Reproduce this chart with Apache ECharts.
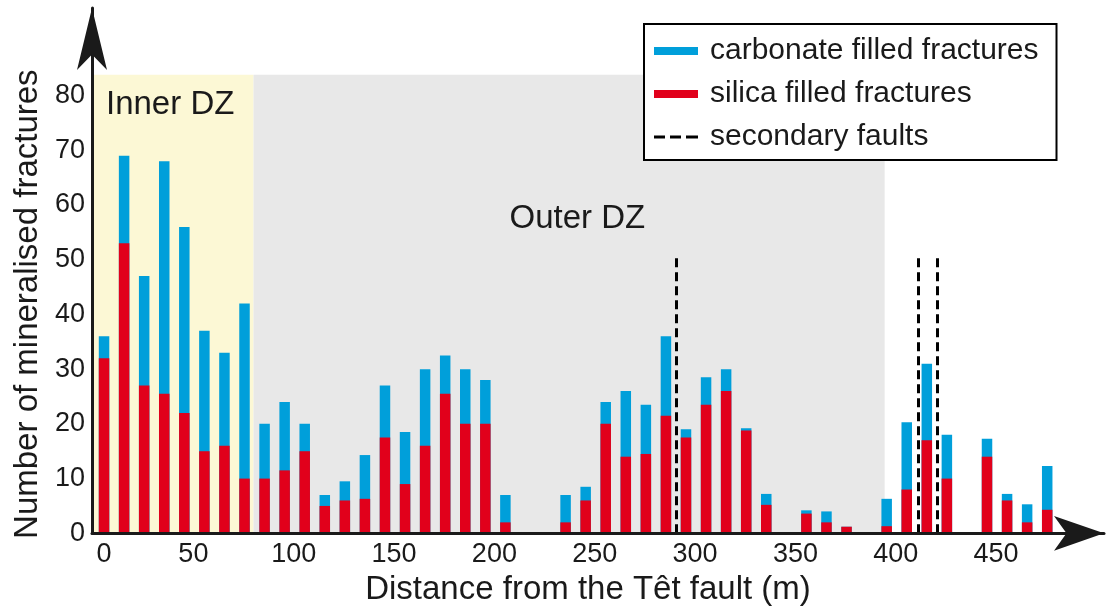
<!DOCTYPE html>
<html>
<head>
<meta charset="utf-8">
<script src="https://cdn.jsdelivr.net/npm/echarts@6/dist/echarts.min.js"></script>
<style>
  html, body { margin: 0; padding: 0; background: #fff; }
  #chart { width: 1107px; height: 614px; }
</style>
</head>
<body>
<div id="chart"></div>
<script>
// ---- data ----
const distances = [0, 10, 20, 30, 40, 50, 60, 70, 80, 90,
                   100, 110, 120, 130, 140, 150, 160, 170, 180, 190,
                   200, 210, 220, 230, 240, 250, 260, 270, 280, 290,
                   300, 310, 320, 330, 340, 350, 360, 370, 380, 390,
                   400, 410, 420, 430, 440, 450, 460, 470];
// total height of each bar (carbonate + silica) and height of the silica part
const totalFractures = [36, 69, 47, 68, 56, 37, 33, 42, 20, 24,
                        20, 7, 9.5, 14.3, 27, 18.5, 30, 32.5, 30, 28,
                        7, 0, 0, 7, 8.5, 24, 26, 23.5, 36, 19,
                        28.5, 30, 19.2, 7.2, 0, 4.2, 4, 1.2, 0, 6.3,
                        20.3, 31, 18, 0, 17.3, 7.2, 5.3, 12.3];
const silica = [32, 53, 27, 25.5, 22, 15, 16, 10, 10, 11.5,
                15, 5, 6, 6.3, 17.5, 9, 16, 25.5, 20, 20,
                2, 0, 0, 2, 6, 20, 14, 14.5, 21.5, 17.5,
                23.5, 26, 18.8, 5.2, 0, 3.6, 2, 1.2, 0, 1.3,
                8, 17, 10, 0, 14, 6, 2, 4.3];
const xTickLabels = [0, 50, 100, 150, 200, 250, 300, 350, 400, 450];
const yTickLabels = [0, 10, 20, 30, 40, 50, 60, 70, 80];
const faultPositions = [285, 405.5, 415];
const faultTop = 51;
const innerDZ = [-6, 74.5];
const outerDZ = [74.5, 389];
const zoneTop = 83.8;
const legendNames = ['carbonate filled fractures', 'silica filled fractures', 'secondary faults'];

// ---- chart ----
const FONT = "'Liberation Sans', Arial, sans-serif";
const TXT = '#1a1a1a';
const BLUE = '#009FDA';
const RED = '#E1001B';

const chart = echarts.init(document.getElementById('chart'), null, { renderer: 'canvas' });

const option = {
  animation: false,
  backgroundColor: '#ffffff',
  grid: { left: 92, right: 3, top: 8, bottom: 80.7, containLabel: false, outerBoundsMode: 'none' },
  legend: {
    orient: 'vertical',
    left: 644, top: 24,
    padding: [12, 18, 8, 10],
    itemGap: 13,
    itemWidth: 44, itemHeight: 14,
    borderColor: '#000', borderWidth: 2,
    backgroundColor: '#fff',
    selectedMode: false,
    textStyle: { fontSize: 30, lineHeight: 30, color: TXT, fontFamily: FONT, padding: [0, 0, 0, 7] },
    data: [
      { name: legendNames[0], icon: 'path://M0,0H44V8H0Z' },
      { name: legendNames[1], icon: 'path://M0,0H44V8H0Z' },
      { name: legendNames[2], icon: 'path://M0,0H11V3H0ZM16,0H27V3H16ZM32,0H44V3H32Z' }
    ]
  },
  xAxis: {
    type: 'value',
    min: innerDZ[0], max: 498.3,
    z: 10,
    name: 'Distance from the Têt fault (m)',
    nameLocation: 'middle',
    nameGap: 37,
    nameTextStyle: { fontSize: 33, color: TXT, fontFamily: FONT, padding: [0, 20, 0, 0] },
    axisLine: { show: true, onZero: false, lineStyle: { color: '#1a1a1a', width: 3 },
                symbol: ['none', 'arrow'], symbolSize: [26, 50] },
    axisTick: { show: false },
    splitLine: { show: false },
    axisLabel: {
      customValues: xTickLabels,
      margin: 8,
      color: TXT,
      fontSize: 27,
      fontFamily: FONT,
      formatter: v => v === 0 ? '{z|0}' : '{n|' + v + '}',
      rich: {
        z: { fontSize: 27, fontFamily: FONT, color: TXT },
        n: { fontSize: 27, fontFamily: FONT, color: TXT, padding: [0, 22, 0, 0] }
      }
    }
  },
  yAxis: {
    type: 'value',
    min: 0, max: 96,
    z: 10,
    name: 'Number of mineralised fractures',
    nameLocation: 'middle',
    nameGap: 31,
    nameTextStyle: { fontSize: 33, color: TXT, fontFamily: FONT, padding: [0, 67, 0, 0] },
    axisLine: { show: true, onZero: false, lineStyle: { color: '#1a1a1a', width: 3 },
                symbol: ['none', 'arrow'], symbolSize: [22.5, 62] },
    axisTick: { show: false },
    splitLine: { show: false },
    axisLabel: { customValues: yTickLabels, margin: 7, color: TXT, fontSize: 27, fontFamily: FONT }
  },
  series: [
    {
      name: legendNames[0],
      type: 'bar',
      barWidth: 10.5,
      barGap: '-100%',
      itemStyle: { color: BLUE },
      data: distances.map((d, i) => [d, totalFractures[i]])
    },
    {
      name: legendNames[1],
      type: 'bar',
      barWidth: 10.5,
      barGap: '-100%',
      itemStyle: { color: RED },
      data: distances.map((d, i) => [d, silica[i]])
    },
    {
      name: legendNames[2],
      type: 'line',
      symbol: 'none',
      data: [],
      itemStyle: { color: '#000' },
      lineStyle: { color: '#000', width: 3, type: [9, 5] },
      markArea: {
        silent: true,
        z: 0,
        label: { show: true, color: TXT, fontSize: 33, fontFamily: FONT },
        data: [
          [{ name: 'Inner DZ', xAxis: innerDZ[0], yAxis: 0, itemStyle: { color: '#FCF8D5' },
             label: { position: [14, 14] } },
           { xAxis: innerDZ[1], yAxis: zoneTop }],
          [{ name: 'Outer DZ', xAxis: outerDZ[0], yAxis: 0, itemStyle: { color: '#E8E8E8' },
             label: { position: [256, 128] } },
           { xAxis: outerDZ[1], yAxis: zoneTop }]
        ]
      },
      markLine: {
        silent: true,
        symbol: ['none', 'none'],
        label: { show: false },
        lineStyle: { color: '#000', width: 3, type: [9, 5] },
        emphasis: { disabled: true },
        data: faultPositions.map(f => [{ coord: [f, 0] }, { coord: [f, faultTop] }])
      }
    }
  ]
};
chart.setOption(option);
</script>
</body>
</html>
